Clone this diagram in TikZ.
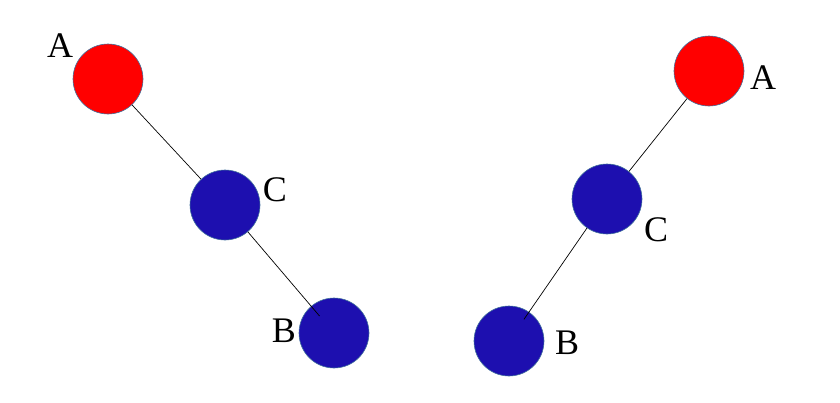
\documentclass[tikz,border=0pt]{standalone}
\usepackage{fontspec}
\setmainfont{Liberation Serif}
\usepackage{tikz}
\usepackage{xcolor}
\definecolor{NodeRed}{HTML}{FF0000}
\definecolor{NodeBlue}{HTML}{1D0FAF}
\definecolor{NodeRim}{HTML}{41719C}
\tikzset{
    % Node styles
    rootnode/.style={
        circle,
        draw=NodeRim,
        fill=NodeRed,
        line width=0.6pt,
        minimum size=70pt,
        inner sep=0pt
    },
    leafnode/.style={
        circle,
        draw=NodeRim,
        fill=NodeBlue,
        line width=0.6pt,
        minimum size=70pt,
        inner sep=0pt
    },
    namelabel/.style={
        font=\fontsize{36}{40}\selectfont,
        inner sep=0pt
    },
    % Edge style
    treeedge/.style={
        draw=black,
        line width=0.7pt
    }
}
\begin{document}
\begin{tikzpicture}[x=1pt,y=-1pt]
            \useasboundingbox (0,0) rectangle (840,402);

            % Left tree
            \node[rootnode] (lA) at (108,79) {};
            \node[leafnode] (lC) at (225,205) {};
            \node[leafnode] (lB) at (334,333) {};
            \node[namelabel] (lAname) at (60,46) {A};
            \node[namelabel] (lCname) at (275,190) {C};
            \node[namelabel] (lBname) at (284,331) {B};
            \draw[treeedge] (lA) -- (lC);
            \draw[treeedge,shorten >=-13pt] (lC) -- (lB);

            % Right tree
            \node[rootnode] (rA) at (709,71) {};
            \node[leafnode] (rC) at (607,199) {};
            \node[leafnode] (rB) at (509,341) {};
            \node[namelabel] (rAname) at (763,78) {A};
            \node[namelabel] (rCname) at (656,230) {C};
            \node[namelabel] (rBname) at (567,343) {B};
            \draw[treeedge] (rA) -- (rC);
            \draw[treeedge,shorten >=-9pt] (rC) -- (rB);
        \end{tikzpicture}
\end{document}
